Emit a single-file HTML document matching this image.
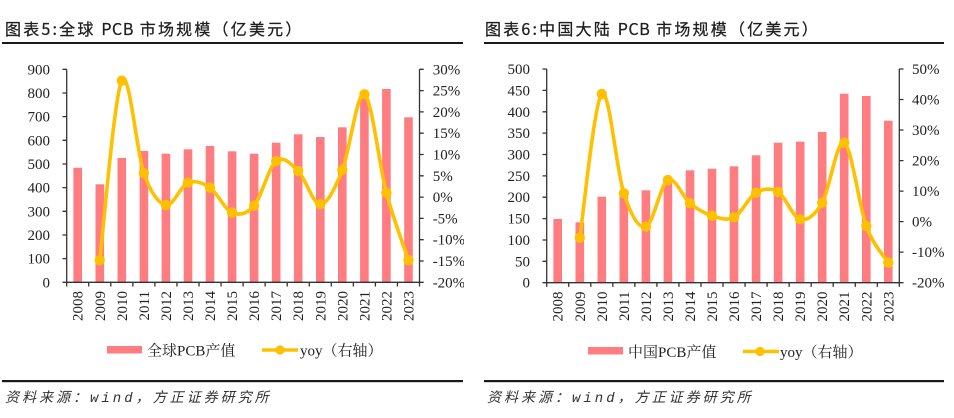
<!DOCTYPE html>
<html><head><meta charset="utf-8"><style>
html,body{margin:0;padding:0;background:#fff;}
svg{display:block;}
.t{font-family:"Noto Sans CJK SC","WenQuanYi Zen Hei",sans-serif;font-size:16px;fill:#1e1e1e;letter-spacing:2.2px;stroke:#1e1e1e;stroke-width:0.25px;}
.t tspan.p{letter-spacing:0.6px;}
.ax{font-family:"Liberation Serif","Noto Serif CJK SC",serif;font-size:15px;fill:#222;}
.lg{font-family:"Liberation Serif","Noto Serif CJK SC",serif;font-size:15px;fill:#222;}
.src{font-family:"Liberation Mono","Noto Sans CJK SC",monospace;font-size:14px;font-style:italic;fill:#333;letter-spacing:3px;}
</style></head><body>
<svg width="954" height="418" viewBox="0 0 954 418" xmlns="http://www.w3.org/2000/svg">
<defs>
<clipPath id="cl"><rect x="0" y="0" width="464" height="418"/></clipPath>
<clipPath id="cr"><rect x="477" y="0" width="467" height="418"/></clipPath>
</defs>
<rect width="954" height="418" fill="#fff"/>

<!-- ================= LEFT CHART ================= -->
<text class="t" x="5" y="35">图表5:全球 <tspan class="p">PCB</tspan> 市场规模（亿美元）</text>
<rect x="2" y="42" width="461" height="2" fill="#1a1a1a"/>

<g fill="#FF7C80">
<rect x="73.4" y="167.7" width="8.6" height="114.6"/>
<rect x="95.5" y="184.3" width="8.6" height="98"/>
<rect x="117.5" y="158" width="8.6" height="124.3"/>
<rect x="139.6" y="151" width="8.6" height="131.3"/>
<rect x="161.6" y="153.7" width="8.6" height="128.6"/>
<rect x="183.7" y="149.3" width="8.6" height="133"/>
<rect x="205.7" y="146" width="8.6" height="136.3"/>
<rect x="227.8" y="151.3" width="8.6" height="131"/>
<rect x="249.8" y="153.7" width="8.6" height="128.6"/>
<rect x="271.9" y="142.7" width="8.6" height="139.6"/>
<rect x="293.9" y="134.3" width="8.6" height="148"/>
<rect x="316.0" y="137" width="8.6" height="145.3"/>
<rect x="338.0" y="127.3" width="8.6" height="155"/>
<rect x="360.1" y="92" width="8.6" height="190.3"/>
<rect x="382.1" y="89" width="8.6" height="193.3"/>
<rect x="404.2" y="117.3" width="8.6" height="165"/>
</g>

<g stroke="#333" stroke-width="1.3" fill="none">
<line x1="66.7" y1="69.3" x2="66.7" y2="282.3"/>
<line x1="419.5" y1="69.3" x2="419.5" y2="282.3"/>
<line x1="66.7" y1="282.3" x2="419.5" y2="282.3"/>
<path d="M62.5 282.3H66.7M62.5 258.6H66.7M62.5 235H66.7M62.5 211.3H66.7M62.5 187.6H66.7M62.5 164H66.7M62.5 140.3H66.7M62.5 116.6H66.7M62.5 93H66.7M62.5 69.3H66.7"/>
<path d="M419.5 69.3H423.7M419.5 90.6H423.7M419.5 111.9H423.7M419.5 133.2H423.7M419.5 154.5H423.7M419.5 175.8H423.7M419.5 197.1H423.7M419.5 218.4H423.7M419.5 239.7H423.7M419.5 261H423.7M419.5 282.3H423.7"/>
<path d="M66.7 282.3V286.5M88.75 282.3V286.5M110.8 282.3V286.5M132.85 282.3V286.5M154.9 282.3V286.5M176.95 282.3V286.5M199 282.3V286.5M221.05 282.3V286.5M243.1 282.3V286.5M265.15 282.3V286.5M287.2 282.3V286.5M309.25 282.3V286.5M331.3 282.3V286.5M353.35 282.3V286.5M375.4 282.3V286.5M397.45 282.3V286.5M419.5 282.3V286.5"/>
</g>

<g class="ax" text-anchor="end">
<text x="50" y="287.3">0</text>
<text x="50" y="263.6">100</text>
<text x="50" y="240">200</text>
<text x="50" y="216.3">300</text>
<text x="50" y="192.6">400</text>
<text x="50" y="169">500</text>
<text x="50" y="145.3">600</text>
<text x="50" y="121.6">700</text>
<text x="50" y="98">800</text>
<text x="50" y="74.3">900</text>
</g>
<g class="ax" clip-path="url(#cl)">
<text x="432.7" y="74.3">30%</text>
<text x="432.7" y="95.6">25%</text>
<text x="432.7" y="116.9">20%</text>
<text x="432.7" y="138.2">15%</text>
<text x="432.7" y="159.5">10%</text>
<text x="432.7" y="180.8">5%</text>
<text x="432.7" y="202.1">0%</text>
<text x="432.7" y="223.4">-5%</text>
<text x="432.7" y="244.7">-10%</text>
<text x="432.7" y="266">-15%</text>
<text x="432.7" y="287.3">-20%</text>
</g>
<g class="ax" text-anchor="end">
<text transform="translate(82.7,291) rotate(-90)">2008</text>
<text transform="translate(104.8,291) rotate(-90)">2009</text>
<text transform="translate(126.8,291) rotate(-90)">2010</text>
<text transform="translate(148.9,291) rotate(-90)">2011</text>
<text transform="translate(170.9,291) rotate(-90)">2012</text>
<text transform="translate(193,291) rotate(-90)">2013</text>
<text transform="translate(215,291) rotate(-90)">2014</text>
<text transform="translate(237.1,291) rotate(-90)">2015</text>
<text transform="translate(259.1,291) rotate(-90)">2016</text>
<text transform="translate(281.2,291) rotate(-90)">2017</text>
<text transform="translate(303.2,291) rotate(-90)">2018</text>
<text transform="translate(325.3,291) rotate(-90)">2019</text>
<text transform="translate(347.3,291) rotate(-90)">2020</text>
<text transform="translate(369.4,291) rotate(-90)">2021</text>
<text transform="translate(391.4,291) rotate(-90)">2022</text>
<text transform="translate(413.5,291) rotate(-90)">2023</text>
</g>

<path fill="none" stroke="#FFC000" stroke-width="3.6" stroke-linejoin="round" d="M99.7,260.3 C103.38,230.37 114.43,95.2 121.8,80.7 C129.17,66.2 136.55,152.58 143.9,173.3 C151.25,194.02 158.55,203.43 165.9,205 C173.25,206.57 180.65,185.58 188,182.7 C195.35,179.82 202.65,182.7 210,187.7 C217.35,192.7 224.75,209.7 232.1,212.7 C239.45,215.7 246.75,214.32 254.1,205.7 C261.45,197.08 268.85,166.78 276.2,161 C283.55,155.22 290.85,163.78 298.2,171 C305.55,178.22 312.950,204.47 320.3,204.3 C327.65,204.13 334.95,188.33 342.3,170 C349.65,151.67 357.05,90.52 364.4,94.3 C371.75,98.08 379.05,165.03 386.4,192.7 C393.75,220.37 404.82,249.03 408.5,260.3"/>
<g fill="#FFC000">
<circle cx="99.7" cy="260.3" r="5.2"/>
<circle cx="121.8" cy="80.7" r="5.2"/>
<circle cx="143.9" cy="173.3" r="5.2"/>
<circle cx="165.9" cy="205" r="5.2"/>
<circle cx="188" cy="182.7" r="5.2"/>
<circle cx="210" cy="187.7" r="5.2"/>
<circle cx="232.1" cy="212.7" r="5.2"/>
<circle cx="254.1" cy="205.7" r="5.2"/>
<circle cx="276.2" cy="161" r="5.2"/>
<circle cx="298.2" cy="171" r="5.2"/>
<circle cx="320.3" cy="204.3" r="5.2"/>
<circle cx="342.3" cy="170" r="5.2"/>
<circle cx="364.4" cy="94.3" r="5.2"/>
<circle cx="386.4" cy="192.7" r="5.2"/>
<circle cx="408.5" cy="260.3" r="5.2"/>
</g>

<rect x="107" y="346" width="35" height="7.5" fill="#FF7C80"/>
<text class="lg" x="147" y="355.5">全球PCB产值</text>
<line x1="262" y1="350" x2="298" y2="350" stroke="#FFC000" stroke-width="3.6"/>
<circle cx="280" cy="350" r="4.6" fill="#FFC000"/>
<text class="lg" x="300" y="355.5">yoy（右轴）</text>

<rect x="2" y="380" width="461" height="2.2" fill="#1a1a1a"/>
<text class="src" x="5" y="402">资料来源：wind，方正证券研究所</text>

<!-- ================= RIGHT CHART ================= -->
<text class="t" x="485" y="35">图表6:中国大陆 <tspan class="p">PCB</tspan> 市场规模（亿美元）</text>
<rect x="484" y="42" width="460" height="2" fill="#1a1a1a"/>

<g fill="#FF7C80">
<rect x="553.4" y="219" width="8.6" height="63.7"/>
<rect x="575.5" y="222.3" width="8.6" height="60.4"/>
<rect x="597.5" y="196.7" width="8.6" height="86"/>
<rect x="619.5" y="193" width="8.6" height="89.7"/>
<rect x="641.6" y="190.3" width="8.6" height="92.4"/>
<rect x="663.6" y="178" width="8.6" height="104.7"/>
<rect x="685.7" y="170.3" width="8.6" height="112.4"/>
<rect x="707.7" y="168.7" width="8.6" height="114"/>
<rect x="729.7" y="166.3" width="8.6" height="116.4"/>
<rect x="751.8" y="155.3" width="8.6" height="127.4"/>
<rect x="773.8" y="142.7" width="8.6" height="140"/>
<rect x="795.9" y="141.7" width="8.6" height="141"/>
<rect x="817.9" y="132" width="8.6" height="150.7"/>
<rect x="839.9" y="93.7" width="8.6" height="189"/>
<rect x="862.0" y="96" width="8.6" height="186.7"/>
<rect x="884.0" y="120.7" width="8.6" height="162"/>
</g>

<g stroke="#333" stroke-width="1.3" fill="none">
<line x1="546.7" y1="69" x2="546.7" y2="282.7"/>
<line x1="899.3" y1="69" x2="899.3" y2="282.7"/>
<line x1="546.7" y1="282.7" x2="899.3" y2="282.7"/>
<path d="M542.5 282.7H546.7M542.5 261.3H546.7M542.5 240H546.7M542.5 218.6H546.7M542.5 197.2H546.7M542.5 175.9H546.7M542.5 154.5H546.7M542.5 133.1H546.7M542.5 111.8H546.7M542.5 90.4H546.7M542.5 69H546.7"/>
<path d="M899.3 69H903.5M899.3 99.5H903.5M899.3 130H903.5M899.3 160.6H903.5M899.3 191.1H903.5M899.3 221.6H903.5M899.3 252.1H903.5M899.3 282.7H903.5"/>
<path d="M546.7 282.7V286.9M568.74 282.7V286.9M590.78 282.7V286.9M612.82 282.7V286.9M634.86 282.7V286.9M656.9 282.7V286.9M678.94 282.7V286.9M700.98 282.7V286.9M723.02 282.7V286.9M745.06 282.7V286.9M767.1 282.7V286.9M789.14 282.7V286.9M811.18 282.7V286.9M833.22 282.7V286.9M855.26 282.7V286.9M877.3 282.7V286.9M899.3 282.7V286.9"/>
</g>

<g class="ax" text-anchor="end">
<text x="530" y="287.7">0</text>
<text x="530" y="266.3">50</text>
<text x="530" y="245">100</text>
<text x="530" y="223.6">150</text>
<text x="530" y="202.2">200</text>
<text x="530" y="180.9">250</text>
<text x="530" y="159.5">300</text>
<text x="530" y="138.1">350</text>
<text x="530" y="116.8">400</text>
<text x="530" y="95.4">450</text>
<text x="530" y="74">500</text>
</g>
<g class="ax" clip-path="url(#cr)">
<text x="912" y="74">50%</text>
<text x="912" y="104.5">40%</text>
<text x="912" y="135">30%</text>
<text x="912" y="165.6">20%</text>
<text x="912" y="196.1">10%</text>
<text x="912" y="226.6">0%</text>
<text x="912" y="257.1">-10%</text>
<text x="912" y="287.7">-20%</text>
</g>
<g class="ax" text-anchor="end">
<text transform="translate(562.7,291.5) rotate(-90)">2008</text>
<text transform="translate(584.8,291.5) rotate(-90)">2009</text>
<text transform="translate(606.8,291.5) rotate(-90)">2010</text>
<text transform="translate(628.8,291.5) rotate(-90)">2011</text>
<text transform="translate(650.9,291.5) rotate(-90)">2012</text>
<text transform="translate(672.9,291.5) rotate(-90)">2013</text>
<text transform="translate(695,291.5) rotate(-90)">2014</text>
<text transform="translate(717,291.5) rotate(-90)">2015</text>
<text transform="translate(739,291.5) rotate(-90)">2016</text>
<text transform="translate(761.1,291.5) rotate(-90)">2017</text>
<text transform="translate(783.1,291.5) rotate(-90)">2018</text>
<text transform="translate(805.2,291.5) rotate(-90)">2019</text>
<text transform="translate(827.2,291.5) rotate(-90)">2020</text>
<text transform="translate(849.2,291.5) rotate(-90)">2021</text>
<text transform="translate(871.3,291.5) rotate(-90)">2022</text>
<text transform="translate(893.3,291.5) rotate(-90)">2023</text>
</g>

<path fill="none" stroke="#FFC000" stroke-width="3.6" stroke-linejoin="round" d="M579.76,237.7 C583.43,213.75 594.45,101.4 601.8,94 C609.15,86.6 616.49,171.18 623.84,193.3 C631.19,215.42 638.53,228.92 645.88,226.7 C653.23,224.48 660.57,183.9 667.92,180 C675.27,176.1 682.61,197.35 689.96,203.3 C697.31,209.25 704.65,213.37 712,215.7 C719.35,218.03 726.69,221.13 734.04,217.3 C741.39,213.47 748.73,196.92 756.08,192.7 C763.43,188.48 770.77,187.57 778.12,192 C785.47,196.43 792.81,217.52 800.16,219.3 C807.51,221.08 814.85,215.47 822.2,202.7 C829.55,189.93 836.89,138.82 844.24,142.7 C851.59,146.58 858.93,206 866.28,226 C873.63,246 884.65,256.58 888.32,262.7"/>
<g fill="#FFC000">
<circle cx="579.76" cy="237.7" r="5.2"/>
<circle cx="601.8" cy="94" r="5.2"/>
<circle cx="623.84" cy="193.3" r="5.2"/>
<circle cx="645.88" cy="226.7" r="5.2"/>
<circle cx="667.92" cy="180" r="5.2"/>
<circle cx="689.96" cy="203.3" r="5.2"/>
<circle cx="712" cy="215.7" r="5.2"/>
<circle cx="734.04" cy="217.3" r="5.2"/>
<circle cx="756.08" cy="192.7" r="5.2"/>
<circle cx="778.12" cy="192" r="5.2"/>
<circle cx="800.16" cy="219.3" r="5.2"/>
<circle cx="822.2" cy="202.7" r="5.2"/>
<circle cx="844.24" cy="142.7" r="5.2"/>
<circle cx="866.28" cy="226" r="5.2"/>
<circle cx="888.32" cy="262.7" r="5.2"/>
</g>

<rect x="588" y="347" width="35" height="7.5" fill="#FF7C80"/>
<text class="lg" x="628" y="357">中国PCB产值</text>
<line x1="743" y1="351.5" x2="779" y2="351.5" stroke="#FFC000" stroke-width="3.6"/>
<circle cx="760" cy="351.5" r="4.6" fill="#FFC000"/>
<text class="lg" x="780" y="357">yoy（右轴）</text>

<rect x="484" y="380" width="460" height="2.2" fill="#1a1a1a"/>
<text class="src" x="487" y="402">资料来源：wind，方正证券研究所</text>
</svg>
</body></html>
